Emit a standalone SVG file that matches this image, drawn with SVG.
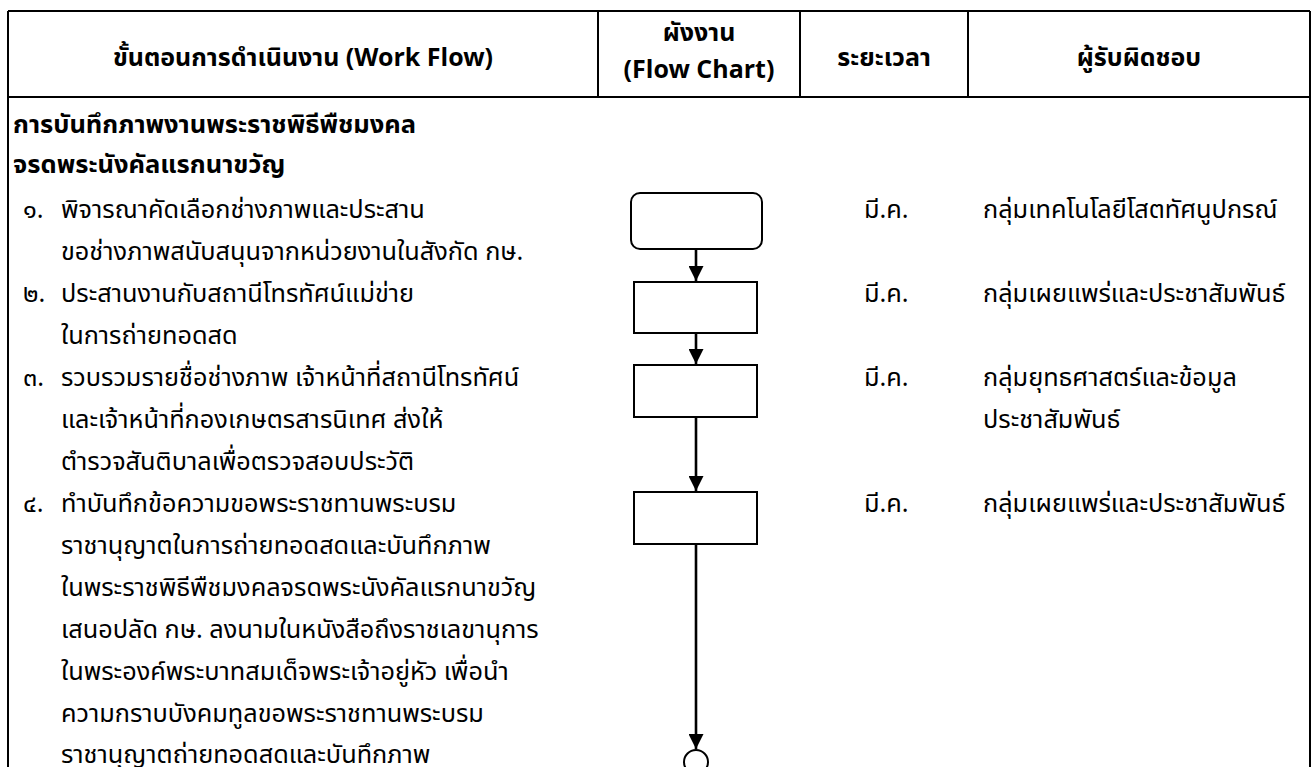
<svg xmlns="http://www.w3.org/2000/svg" width="1316" height="767" viewBox="0 0 1316 767">
<style>
text{font-family:"Noto Sans Thai","Noto Sans","Liberation Sans",sans-serif;fill:#000}
.h{font-size:25px;font-weight:bold;text-anchor:middle}
.t{font-size:25.5px;font-weight:bold}
.b{font-size:25.3px}
.grid{stroke:#000;stroke-width:2;fill:none}
.shape{fill:#fff;stroke:#000;stroke-width:2}
.conn{stroke:#000;stroke-width:2.6;fill:none;marker-end:url(#ah)}
</style>
<defs>
<marker id="ah" viewBox="0 0 10 10" refX="10" refY="5" markerUnits="userSpaceOnUse" markerWidth="15" markerHeight="15" orient="auto">
<path d="M0,0 L10,5 L0,10 z" fill="#000"/>
</marker>
</defs>
<rect width="1316" height="767" fill="#fff"/>
<g id="table">
<path class="grid" d="M8,11 H1310 M8,97 H1310 M8,11 V767 M1310,11 V767 M598,11 V97 M800,11 V97 M968,11 V97"/>
<text class="h" x="303" y="66">ขั้นตอนการดำเนินงาน (Work Flow)</text>
<text class="h" x="699" y="41">ผังงาน</text>
<text class="h" x="699" y="78">(Flow Chart)</text>
<text class="h" x="884" y="66">ระยะเวลา</text>
<text class="h" x="1139" y="66">ผู้รับผิดชอบ</text>
</g>
<g id="steps">
<text class="t" x="13" y="133">การบันทึกภาพงานพระราชพิธีพืชมงคล</text>
<text class="t" x="13" y="173">จรดพระนังคัลแรกนาขวัญ</text>
<text class="b" x="23" y="218">๑.</text>
<text class="b" x="61" y="218">พิจารณาคัดเลือกช่างภาพและประสาน</text>
<text class="b" x="61" y="260">ขอช่างภาพสนับสนุนจากหน่วยงานในสังกัด กษ.</text>
<text class="b" x="23" y="302">๒.</text>
<text class="b" x="61" y="302">ประสานงานกับสถานีโทรทัศน์แม่ข่าย</text>
<text class="b" x="61" y="344">ในการถ่ายทอดสด</text>
<text class="b" x="23" y="386">๓.</text>
<text class="b" x="61" y="386">รวบรวมรายชื่อช่างภาพ เจ้าหน้าที่สถานีโทรทัศน์</text>
<text class="b" x="61" y="428">และเจ้าหน้าที่กองเกษตรสารนิเทศ ส่งให้</text>
<text class="b" x="61" y="470">ตำรวจสันติบาลเพื่อตรวจสอบประวัติ</text>
<text class="b" x="23" y="512">๔.</text>
<text class="b" x="61" y="512">ทำบันทึกข้อความขอพระราชทานพระบรม</text>
<text class="b" x="61" y="554">ราชานุญาตในการถ่ายทอดสดและบันทึกภาพ</text>
<text class="b" x="61" y="596">ในพระราชพิธีพืชมงคลจรดพระนังคัลแรกนาขวัญ</text>
<text class="b" x="61" y="638">เสนอปลัด กษ. ลงนามในหนังสือถึงราชเลขานุการ</text>
<text class="b" x="61" y="680">ในพระองค์พระบาทสมเด็จพระเจ้าอยู่หัว เพื่อนำ</text>
<text class="b" x="61" y="722">ความกราบบังคมทูลขอพระราชทานพระบรม</text>
<text class="b" x="61" y="763">ราชานุญาตถ่ายทอดสดและบันทึกภาพ</text>
</g>
<g id="period">
<text class="b" x="864" y="218">มี.ค.</text>
<text class="b" x="864" y="302">มี.ค.</text>
<text class="b" x="864" y="386">มี.ค.</text>
<text class="b" x="864" y="512">มี.ค.</text>
</g>
<g id="owner">
<text class="b" x="983" y="218">กลุ่มเทคโนโลยีโสตทัศนูปกรณ์</text>
<text class="b" x="983" y="302">กลุ่มเผยแพร่และประชาสัมพันธ์</text>
<text class="b" x="983" y="386">กลุ่มยุทธศาสตร์และข้อมูล</text>
<text class="b" x="983" y="428">ประชาสัมพันธ์</text>
<text class="b" x="983" y="512">กลุ่มเผยแพร่และประชาสัมพันธ์</text>
</g>
<g id="connectors">
<line class="conn" x1="696" y1="249" x2="696" y2="281"/>
<line class="conn" x1="696" y1="333" x2="696" y2="364"/>
<line class="conn" x1="696" y1="417" x2="696" y2="491"/>
<line class="conn" x1="696" y1="544" x2="696" y2="749"/>
</g>
<g id="n1"><rect class="shape" x="631" y="193" width="131" height="56" rx="9"/></g>
<g id="n2"><rect class="shape" x="634" y="282" width="123" height="51"/></g>
<g id="n3"><rect class="shape" x="634" y="365" width="123" height="52"/></g>
<g id="n4"><rect class="shape" x="634" y="492" width="123" height="52"/></g>
<g id="n5"><circle class="shape" cx="696" cy="762" r="12"/></g>
</svg>
